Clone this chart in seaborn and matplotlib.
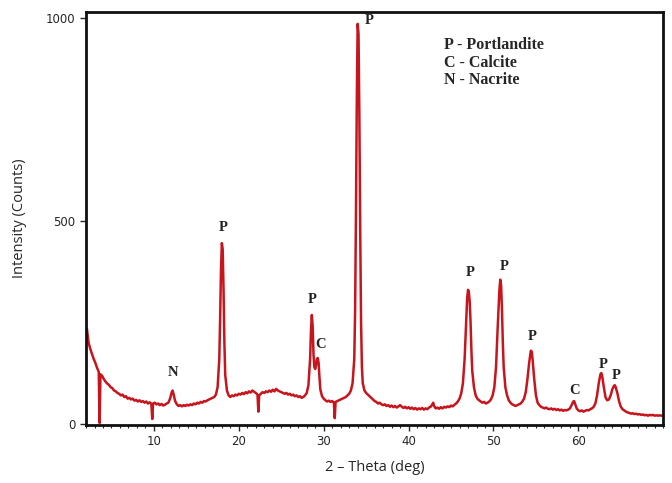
import matplotlib
matplotlib.use("Agg")
import matplotlib.pyplot as plt
from matplotlib.ticker import MultipleLocator
import seaborn as sns
import pandas as pd

# XRD pattern (2-theta in deg, intensity in counts)
two_theta = [
    2.1, 2.3, 2.5, 2.7, 2.9, 3.1, 3.3, 3.5, 3.6, 3.7, 3.9, 4.1, 4.3, 4.5, 4.7, 4.9,
    5.1, 5.3, 5.5, 5.7, 5.9, 6.1, 6.3, 6.5, 6.7, 6.9, 7.1, 7.3, 7.5, 7.7, 7.9,
    8.1, 8.3, 8.5, 8.7, 8.9, 9.1, 9.3, 9.5, 9.7, 9.8, 9.9, 10.1, 10.3, 10.5, 10.7, 10.9,
    11.1, 11.3, 11.5, 11.7, 11.9, 12.1, 12.2, 12.3, 12.5, 12.7, 12.9, 13.1, 13.3, 13.5,
    13.7, 13.9, 14.1, 14.3, 14.5, 14.7, 14.9, 15.1, 15.3, 15.5, 15.7, 15.9, 16.1, 16.3,
    16.5, 16.7, 16.9, 17.1, 17.3, 17.5, 17.7, 17.8, 17.9, 18.0, 18.1, 18.2, 18.3, 18.4,
    18.6, 18.8, 19.0, 19.2, 19.4, 19.6, 19.8, 20.0, 20.2, 20.4, 20.6, 20.8, 21.0, 21.2,
    21.4, 21.6, 21.8, 22.0, 22.2, 22.3, 22.4, 22.6, 22.8, 23.0, 23.2, 23.4, 23.6, 23.8,
    24.0, 24.2, 24.4, 24.6, 24.8, 25.0, 25.2, 25.4, 25.6, 25.8, 26.0, 26.2, 26.4, 26.6,
    26.8, 27.0, 27.2, 27.4, 27.6, 27.8, 28.0, 28.2, 28.4, 28.5, 28.6, 28.7, 28.8, 28.9,
    29.0, 29.1, 29.2, 29.3, 29.4, 29.5, 29.6, 29.8, 30.0, 30.2, 30.4, 30.6, 30.8, 31.0,
    31.2, 31.3, 31.4, 31.6, 31.8, 32.0, 32.2, 32.4, 32.6, 32.8, 33.0, 33.2, 33.4, 33.6,
    33.7, 33.8, 33.9, 34.0, 34.1, 34.2, 34.3, 34.4, 34.5, 34.6, 34.8, 35.0, 35.2, 35.4,
    35.6, 35.8, 36.0, 36.2, 36.4, 36.6, 36.8, 37.0, 37.2, 37.4, 37.6, 37.8, 38.0, 38.2,
    38.4, 38.6, 38.8, 39.0, 39.2, 39.4, 39.6, 39.8, 40.0, 40.2, 40.4, 40.6, 40.8, 41.0,
    41.2, 41.4, 41.6, 41.8, 42.0, 42.2, 42.4, 42.6, 42.8, 42.9, 43.0, 43.2, 43.4, 43.6,
    43.8, 44.0, 44.2, 44.4, 44.6, 44.8, 45.0, 45.2, 45.4, 45.6, 45.8, 46.0, 46.2, 46.4,
    46.6, 46.8, 46.9, 47.0, 47.1, 47.2, 47.3, 47.4, 47.5, 47.7, 47.9, 48.1, 48.3, 48.5,
    48.7, 48.9, 49.1, 49.3, 49.5, 49.7, 49.9, 50.1, 50.3, 50.5, 50.7, 50.8, 50.9, 51.0,
    51.1, 51.2, 51.4, 51.6, 51.8, 52.0, 52.2, 52.4, 52.6, 52.8, 53.0, 53.2, 53.4, 53.6,
    53.8, 54.0, 54.2, 54.4, 54.5, 54.6, 54.8, 55.0, 55.2, 55.4, 55.6, 55.8, 56.0, 56.2,
    56.4, 56.6, 56.8, 57.0, 57.2, 57.4, 57.6, 57.8, 58.0, 58.2, 58.4, 58.6, 58.8, 59.0,
    59.2, 59.4, 59.5, 59.6, 59.8, 60.0, 60.2, 60.4, 60.6, 60.8, 61.0, 61.2, 61.4, 61.6,
    61.8, 62.0, 62.2, 62.4, 62.6, 62.7, 62.8, 63.0, 63.2, 63.4, 63.6, 63.8, 64.0, 64.2,
    64.3, 64.4, 64.6, 64.8, 65.0, 65.2, 65.4, 65.6, 65.8, 66.0, 66.2, 66.4, 66.6, 66.8,
    67.0, 67.2, 67.4, 67.6, 67.8, 68.0, 68.2, 68.4, 68.6, 68.8, 69.0, 69.2, 69.4, 69.6,
    69.8, 70.0,
]
counts = [
    235, 200, 185, 172, 160, 150, 138, 128, 2, 122, 118, 110, 104, 99, 96, 90,
    88, 82, 80, 76, 74, 70, 72, 66, 68, 62, 64, 60, 62, 57, 59,
    55, 58, 54, 56, 52, 55, 50, 53, 49, 12, 50, 52, 48, 50, 46, 49,
    45, 47, 50, 52, 62, 78, 82, 74, 56, 48, 44, 46, 43, 46,
    44, 47, 45, 48, 46, 50, 48, 52, 50, 54, 52, 56, 55, 58,
    60, 62, 64, 66, 72, 90, 160, 260, 380, 445, 430, 330, 200, 120,
    82, 70, 66, 70, 68, 72, 70, 74, 72, 76, 73, 78, 75, 80,
    77, 82, 79, 76, 72, 30, 70, 74, 78, 76, 80, 78, 82, 79,
    84, 80, 86, 82, 80, 78, 76, 74, 76, 72, 74, 70, 72, 68,
    70, 66, 68, 64, 66, 70, 76, 95, 160, 230, 268, 240, 170, 140,
    135, 145, 160, 162, 150, 115, 85, 68, 62, 58, 55, 57, 54, 56,
    52, 14, 54, 56, 58, 60, 62, 64, 66, 70, 74, 82, 100, 160,
    280, 520, 800, 985, 960, 760, 480, 250, 140, 100, 82, 76, 72, 68,
    64, 60, 56, 54, 50, 52, 48, 46, 48, 44, 46, 42, 45, 41,
    44, 40, 43, 46, 42, 39, 42, 38, 41, 37, 40, 36, 39, 35,
    38, 36, 39, 35, 38, 36, 40, 42, 48, 52, 44, 38, 40, 37,
    41, 38, 42, 40, 43, 41, 45, 43, 47, 50, 55, 62, 75, 100,
    160, 260, 310, 330, 325, 300, 250, 180, 130, 90, 70, 62, 58, 55,
    52, 54, 50, 52, 55, 60, 70, 90, 140, 240, 330, 355, 340, 280,
    200, 140, 90, 70, 58, 52, 48, 46, 44, 46, 48, 50, 55, 62,
    78, 110, 150, 180, 178, 160, 110, 70, 52, 46, 42, 40, 38, 40,
    37, 36, 38, 35, 37, 34, 36, 33, 35, 32, 34, 33, 35, 38,
    46, 55, 56, 50, 38, 33, 31, 33, 30, 32, 34, 33, 36, 38,
    42, 50, 70, 100, 122, 125, 118, 90, 65, 58, 60, 70, 85, 94,
    95, 90, 75, 55, 42, 36, 33, 30, 28, 27, 25, 26, 24, 25,
    23, 24, 22, 23, 21, 22, 20, 22, 21, 22, 20, 21, 20, 21,
    20, 21,
]

# peak annotations
peak_labels = ["N", "P", "P", "C", "P", "P", "P", "P", "C", "P", "P"]
peak_x = [12.2, 18.1, 28.7, 29.6, 35.3, 47.2, 51.2, 54.5, 59.5, 62.9, 64.5]
peak_y = [127, 483, 307, 196, 993, 373, 387, 216, 83, 147, 118]

legend_lines = ["P - Portlandite", "C - Calcite", "N - Nacrite"]

df = pd.DataFrame({"two_theta": two_theta, "counts": counts})

sns.set_style("ticks")
fig = plt.figure(figsize=(6.72, 4.83), dpi=100)
ax = fig.add_axes([0.128, 0.12, 0.859, 0.855])

sns.lineplot(data=df, x="two_theta", y="counts", ax=ax, color="#c8141c", linewidth=1.8)

for lab, px, py in zip(peak_labels, peak_x, peak_y):
    ax.text(px, py, lab, ha="center", va="center", fontsize=10.5, fontweight="bold",
            family="Liberation Serif", color="#222222")

ax.text(0.62, 0.94, "\n".join(legend_lines), transform=ax.transAxes, ha="left", va="top",
        fontsize=11.5, fontweight="bold", family="Liberation Serif", linespacing=1.15)

ax.set_xlim(2.0, 70.0)
ax.set_ylim(-3, 1014)
ax.set_xticks([10, 20, 30, 40, 50, 60])
ax.xaxis.set_minor_locator(MultipleLocator(1))
ax.set_yticks([0, 500, 1000])
ax.tick_params(axis="both", which="major", direction="out", length=4, width=1, labelsize=8.5)
ax.tick_params(axis="x", which="minor", direction="out", length=2.5, width=0.8)
for s in ax.spines.values():
    s.set_linewidth(2)
    s.set_color("#111111")

ax.set_xlabel("2 \u2013 Theta (deg)", fontsize=10.5, family="Open Sans", labelpad=8)
ax.set_ylabel("Intensity (Counts)", fontsize=10.5, family="Open Sans", labelpad=14)

fig.savefig("out.png", dpi=100)
